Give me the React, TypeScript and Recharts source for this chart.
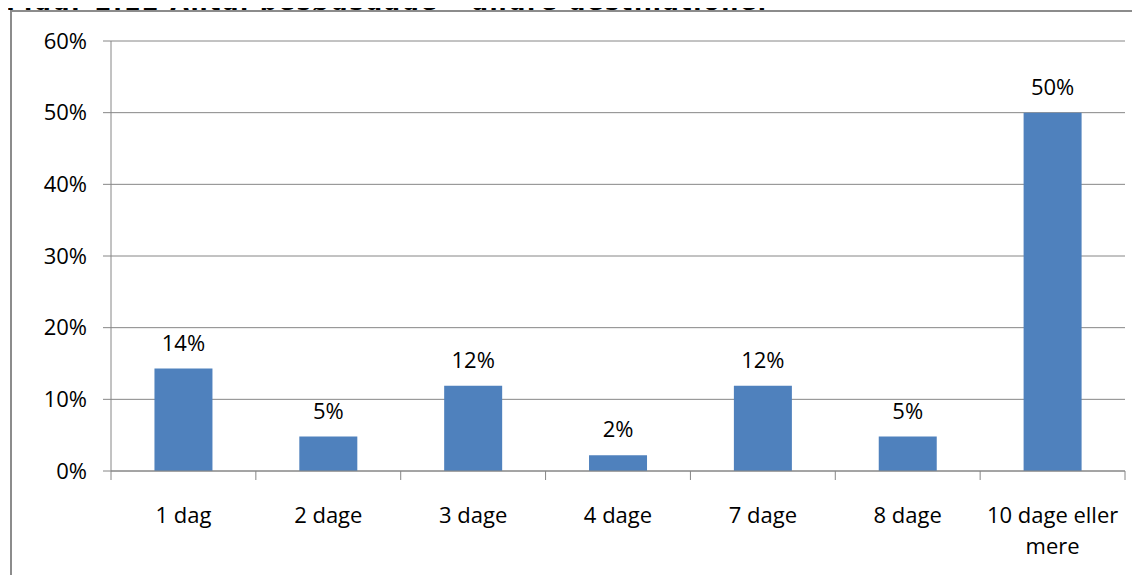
import { BarChart, Bar, XAxis, YAxis, CartesianGrid, LabelList } from "recharts"

// categories and values (percent)
const categories = ["1 dag", "2 dage", "3 dage", "4 dage", "7 dage", "8 dage", "10 dage eller mere"]
const shares = [14.3, 4.8, 11.9, 2.2, 11.9, 4.8, 50.0]
const yTicks = [0, 10, 20, 30, 40, 50, 60]

const title = "Figur 2.12 Antal besøgsdage – andre destinationer"

const FONT = "'Open Sans', 'Noto Sans', sans-serif"
const GRID = "#868686"

const data = categories.map((name, i) => ({ name, value: shares[i] }))

// x tick: label (wrapped) + tick marks at the category boundaries
const CategoryTick = (props: any) => {
    const { x, y, payload, index, visibleTicksCount } = props
    const half = payload.offset || 0
    const words: string[] = String(payload.value).split(" ")
    const lines: string[] = []
    let cur = ""
    words.forEach((w) => {
        const next = cur ? `${cur} ${w}` : w
        if (next.length > 13 && cur) {
            lines.push(cur)
            cur = w
        } else {
            cur = next
        }
    })
    if (cur) lines.push(cur)
    const axisY = y - 8
    return (
        <g>
            <line x1={x - half} x2={x - half} y1={axisY} y2={axisY + 9} stroke={GRID} strokeWidth={1} />
            {index === visibleTicksCount - 1 && (
                <line x1={x + half} x2={x + half} y1={axisY} y2={axisY + 9} stroke={GRID} strokeWidth={1} />
            )}
            {lines.map((l, i) => (
                <text key={i} x={x} y={axisY + 52 + i * 31} textAnchor="middle" fill="#000" fontSize={22} fontFamily={FONT}>
                    {l}
                </text>
            ))}
        </g>
    )
}

export default function App() {
    return (
        <div style={{ position: "relative", width: 1140, height: 583, margin: -8, overflow: "hidden", background: "#fff" }}>
            {/* title, cut off by the top edge as in the source */}
            <div
                style={{
                    position: "absolute",
                    left: 6,
                    top: -12,
                    fontFamily: "'DejaVu Sans', Verdana, sans-serif",
                    fontWeight: "bold",
                    fontSize: 24,
                    letterSpacing: 1.6,
                    lineHeight: "28px",
                    whiteSpace: "nowrap",
                    color: "#000",
                }}
            >
                {title}
            </div>
            {/* chart frame */}
            <div
                style={{
                    position: "absolute",
                    left: 10,
                    top: 10,
                    width: 1200,
                    height: 700,
                    borderLeft: "2px solid #8c8c8c",
                    borderTop: "2px solid #8c8c8c",
                    background: "#fff",
                }}
            />
            <div style={{ position: "absolute", left: 0, top: 12 }}>
                <BarChart width={1140} height={571} data={data} margin={{ top: 29, right: 15, left: 0, bottom: 22 }} barCategoryGap="30%">
                    <CartesianGrid vertical={false} stroke={GRID} strokeWidth={1} />
                    <XAxis
                        dataKey="name"
                        height={90}
                        axisLine={{ stroke: GRID }}
                        tickLine={false}
                        interval={0}
                        tick={<CategoryTick />}
                    />
                    <YAxis
                        width={111}
                        domain={[0, 60]}
                        ticks={yTicks}
                        interval={0}
                        tickFormatter={(v: number) => `${v}%`}
                        axisLine={{ stroke: GRID }}
                        tickLine={{ stroke: GRID }}
                        tickSize={8}
                        tickMargin={16}
                        tick={{ fill: "#000", fontSize: 22, fontFamily: FONT }}
                    />
                    <Bar dataKey="value" fill="#4F81BD" isAnimationActive={false}>
                        <LabelList
                            dataKey="value"
                            position="top"
                            offset={18}
                            formatter={(v: any) => `${Math.round(Number(v))}%`}
                            fill="#000"
                            fontSize={22}
                            fontFamily={FONT}
                        />
                    </Bar>
                </BarChart>
            </div>
        </div>
    )
}
